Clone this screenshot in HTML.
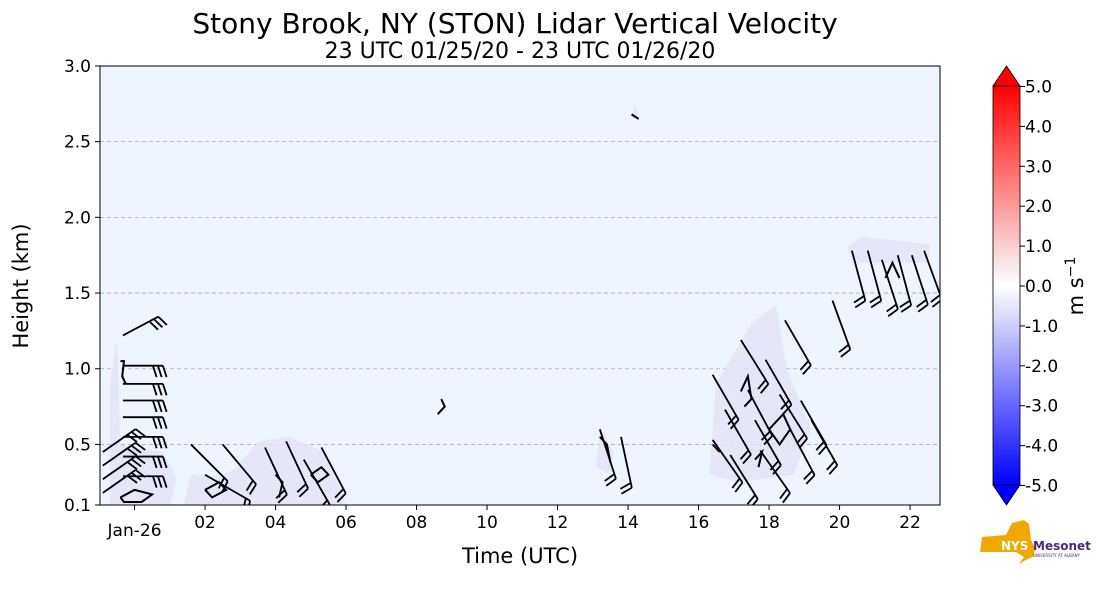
<!DOCTYPE html>
<html><head><meta charset="utf-8"><style>
body{margin:0;background:#fff;font-family:"Liberation Sans","DejaVu Sans",sans-serif}
svg text{font-family:"DejaVu Sans","Liberation Sans",sans-serif}
</style></head><body>
<svg width="1101" height="600" viewBox="0 0 1101 600">
<defs>
<linearGradient id="cb" x1="0" y1="0" x2="0" y2="1">
<stop offset="0" stop-color="#ff0000"/><stop offset="0.25" stop-color="#ff8080"/>
<stop offset="0.45" stop-color="#f8e8ea"/><stop offset="0.5" stop-color="#ffffff"/>
<stop offset="0.55" stop-color="#e8e8fa"/><stop offset="0.75" stop-color="#8080ff"/>
<stop offset="1" stop-color="#0000ff"/></linearGradient>
</defs>
<text x="515" y="33" font-size="28" text-anchor="middle">Stony Brook, NY (STON) Lidar Vertical Velocity</text>
<text x="520" y="58" font-size="22" text-anchor="middle">23 UTC 01/25/20 - 23 UTC 01/26/20</text>
<rect x="100" y="66" width="840" height="439" fill="#eef5fe"/>
<g id="grid"></g>
<g id="shade"></g>
<g id="contours" fill="none" stroke="#000" stroke-width="2"></g>
<g id="barbs" stroke="#000" stroke-width="1.8" fill="none"></g>
<rect x="100" y="66" width="840" height="439" fill="none" stroke="#000" stroke-width="1"/>
<g id="yticks" font-size="17"></g>
<g id="xticks" font-size="17"></g>
<text x="520" y="563" font-size="21" text-anchor="middle">Time (UTC)</text>
<text transform="translate(28,286) rotate(-90)" font-size="21" text-anchor="middle">Height (km)</text>
<g>
<polygon points="993,86 1006.5,66 1020,86" fill="#ff0000" stroke="#000" stroke-width="0.8"/>
<rect x="993" y="86" width="27" height="399" fill="url(#cb)" stroke="#000" stroke-width="0.8"/>
<polygon points="993,485 1006.5,505 1020,485" fill="#0000ff" stroke="#000" stroke-width="0.8"/>
<g id="cbticks" font-size="17"></g>
<text transform="translate(1083,286) rotate(-90)" font-size="21" text-anchor="middle">m s<tspan dy="-8" font-size="14">−1</tspan></text>
</g>
<g>
<path d="M982,537 L1006,535 L1012,523 L1024,520 L1029,524 L1031,540 L1035,548 L1034,556 L1024,561 L1019,564 L1024,557 L1016,552 L998,552 L980,552 Z" fill="#f0a800"/>
<text x="1001" y="550" font-size="12" font-weight="bold" fill="#fff">NYS</text>
<text x="1033" y="550" font-size="12" font-weight="bold" fill="#4b2a7b">Mesonet</text>
<text x="1033" y="557" font-size="4" fill="#4b2a7b">UNIVERSITY AT ALBANY</text>
</g>
</svg>
<script>
const yTicks=[0.1,0.5,1.0,1.5,2.0,2.5,3.0];
const xTickHours=[1,3,5,7,9,11,13,15,17,19,21,23];
const xTickLabels=["Jan-26","02","04","06","08","10","12","14","16","18","20","22"];
const cbTicks=[5,4,3,2,1,0,-1,-2,-3,-4,-5];
// barbs: hours since 23 UTC, height km, staff angle (deg, screen), number of barbs
const barbH=[0.67,0.67,0.67,0.67,0.67,0.67,0.67,0.67,0.1,0.1,0.1,0.1,2.6,3.5,4.7,5.3,6.3,5.8,3.0,
 14.2,14.8,
 17.4,17.75,18.2,18.4,18.6,18.9,19.3,19.45,19.6,17.4,17.9,18.75,19.9,20.2,
 21.35,21.8,22.2,22.65,23.05,23.4,20.8];
const barbKm=[1.22,1.02,0.9,0.79,0.68,0.55,0.42,0.29,0.45,0.36,0.27,0.18,0.5,0.5,0.48,0.52,0.48,0.4,0.3,
 0.6,0.55,
 0.96,0.73,1.19,0.86,0.66,1.06,0.83,1.32,0.6,0.53,0.43,0.46,0.79,0.66,
 1.78,1.78,1.72,1.75,1.75,1.78,1.45];
const barbAng=[-28,0,0,0,0,0,0,0,-35,-35,-35,-35,45,50,65,65,62,60,30,
 72,78,
 60,60,58,62,60,60,58,60,62,55,58,55,60,60,
 75,75,72,75,72,70,70];
const barbN=[3,3,3,3,3,3,3,3,3,3,3,3,2,2,2,2,2,2,2,2,2,2,2,2,2,2,2,2,2,2,2,2,2,2,2,2,2,2,2,2,2,2];
// shaded light-blue regions (hours, km)
const shadeRegions=[
 [[0.3,0.1],[0.3,0.9],[0.5,1.2],[0.6,0.5],[1.8,0.45],[2.2,0.28],[2.0,0.1]],
 [[2.4,0.1],[2.6,0.3],[3.4,0.28],[3.9,0.35],[4.5,0.52],[5.4,0.55],[6.4,0.45],[7.0,0.1]],
 [[14.1,0.35],[14.2,0.6],[14.6,0.45],[14.5,0.3]],
 [[17.3,0.3],[17.5,0.9],[18.5,1.3],[19.2,1.42],[19.5,1.0],[20.2,0.6],[19.7,0.3],[18.1,0.25]],
 [[21.2,1.8],[21.6,1.87],[22.5,1.85],[23.6,1.82],[23.5,1.7],[21.4,1.7]],
 [[15.1,2.65],[15.2,2.75],[15.3,2.68]]];
const contourPaths=[
 [[0.6,1.05],[0.7,1.05],[0.65,0.95],[0.75,0.9]],
 [[0.6,0.15],[1.0,0.2],[1.5,0.17],[1.2,0.12],[0.7,0.12],[0.6,0.15]],
 [[3.0,0.2],[3.4,0.25],[3.6,0.2],[3.2,0.15],[3.0,0.2]],
 [[6.0,0.3],[6.3,0.35],[6.5,0.3],[6.2,0.25],[6.0,0.3]],
 [[5.0,0.3],[5.2,0.25],[5.1,0.15]],
 [[9.6,0.7],[9.8,0.75],[9.7,0.8]],
 [[15.1,2.68],[15.3,2.65]],
 [[14.2,0.55],[14.4,0.5],[14.5,0.38]],
 [[18.2,0.85],[18.4,0.95],[18.5,0.8],[18.3,0.75]],
 [[19.0,0.6],[19.4,0.7],[19.6,0.6],[19.3,0.5],[19.0,0.6]],
 [[18.6,0.4],[18.8,0.45],[18.7,0.35]],
 [[22.3,1.6],[22.5,1.7],[22.7,1.6]],
 [[17.4,0.5],[17.6,0.45]]];
const X0=99.3,PXH=35.25,Y0=505,PXKM=151.4;
const xs=h=>X0+PXH*h, ys=k=>Y0-(k-0.1)*PXKM;
const NS="http://www.w3.org/2000/svg";
function mk(t,p,a){const e=document.createElementNS(NS,t);for(const k in a)e.setAttribute(k,a[k]);p.appendChild(e);return e;}
const grid=document.getElementById('grid'),yt=document.getElementById('yticks');
yTicks.forEach(v=>{const y=ys(v);
 if(v>0.1&&v<3){const l=mk('line',grid,{x1:100,x2:940,y1:y,y2:y,stroke:'#aaa','stroke-dasharray':'4,3','stroke-width':0.8});
 
 }
 mk('line',yt,{x1:95,x2:100,y1:y,y2:y,stroke:'#000'});
 const t=mk('text',yt,{x:91,y:y+6,'text-anchor':'end'});t.textContent=v.toFixed(1);
 
 });
const xt=document.getElementById('xticks');
xTickHours.forEach((h,i)=>{const x=xs(h);mk('line',xt,{x1:x,x2:x,y1:505,y2:510,stroke:'#000'});
 const t=mk('text',xt,{x:x,y:i==0?536:528,'text-anchor':'middle'});t.textContent=xTickLabels[i];
 
 });
const cbt=document.getElementById('cbticks');
cbTicks.forEach(v=>{const y=286-v*39.9;mk('line',cbt,{x1:1020,x2:1025,y1:y,y2:y,stroke:'#000'});
 const t=mk('text',cbt,{x:1025,y:y+6});t.textContent=(v<0?'-':'')+Math.abs(v).toFixed(1);
 
 });
const sh=document.getElementById('shade');
shadeRegions.forEach(r=>{const p=mk('polygon',sh,{points:r.map(q=>xs(q[0])+','+ys(q[1])).join(' '),fill:'#e2e4f8',opacity:0.8});
 
 });
const ct=document.getElementById('contours');
contourPaths.forEach(r=>{const p=mk('polyline',ct,{points:r.map(q=>xs(q[0])+','+ys(q[1])).join(' ')});
 
 });
const bg=document.getElementById('barbs');
const clip=mk('clipPath',document.querySelector('defs'),{id:'pc'});mk('rect',clip,{x:100,y:66,width:840,height:439});
bg.setAttribute('clip-path','url(#pc)');
barbH.forEach((h,i)=>{const x=xs(h),y=ys(barbKm[i]),a=barbAng[i]*Math.PI/180,L=i<12?40:52;
 const ex=x+L*Math.cos(a),ey=y+L*Math.sin(a);
 let d=`M${x},${y}L${ex},${ey}`;
 const ba=a+Math.PI*0.4;
 for(let j=0;j<barbN[i];j++){const bx=ex-j*5*Math.cos(a),by=ey-j*5*Math.sin(a);
  d+=`M${bx},${by}l${12*Math.cos(ba)},${12*Math.sin(ba)}`;}
 const p=mk('path',bg,{d:d});
 
 });
</script>
</body></html>
